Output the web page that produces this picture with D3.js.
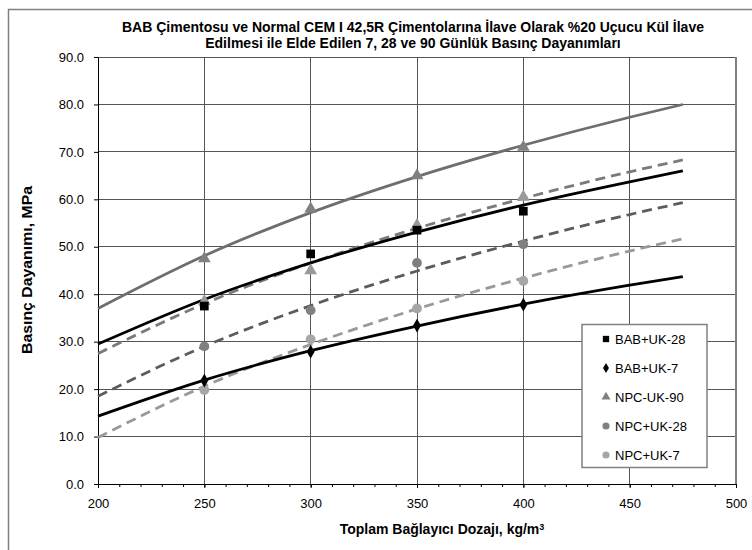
<!DOCTYPE html>
<html lang="tr">
    <head>
        <meta charset="utf-8">
        <title>Basınç Dayanımları</title>
        <script type="text/javascript" src="https://d3js.org/d3.v7.min.js"></script>
        <style>
            body { margin: 0; background: #fff; }
            text { font-family: "Liberation Sans", Arial, sans-serif; }
        </style>
    </head>
    <body>
        <script type="text/javascript">

        var w = 752;
        var h = 550;

        // dozaj values where the samples were measured
        var dozaj = [250, 300, 350, 400];
        var babUk28 = [37.5, 48.5, 53.5, 57.5];
        var babUk7 = [21.8, 27.9, 33.4, 37.8];
        var npcUk90 = [47.5, 58.0, 65.0, 71.0];
        var npcUk90b = [38.5, 45.0, 54.5, 60.5];
        var npcUk28 = [29.0, 36.6, 46.6, 50.5];
        var npcUk7 = [19.8, 30.5, 37.0, 42.8];

        // trend lines
        var trendX = [200, 250, 300, 350, 400, 450, 475];
        var npcUk90Trend = [37.0, 48.1, 57.2, 64.8, 71.4, 77.3, 80.0];
        var npcUk90bTrend = [27.5, 38.0, 46.6, 53.9, 60.2, 65.8, 68.3];
        var babUk28Trend = [29.5, 38.9, 46.6, 53.1, 58.8, 63.7, 66.0];
        var npcUk28Trend = [18.5, 29.0, 37.6, 44.9, 51.2, 56.8, 59.3];
        var npcUk7Trend = [9.8, 20.6, 29.4, 36.9, 43.4, 49.1, 51.7];
        var babUk7Trend = [14.3, 21.9, 28.1, 33.3, 37.9, 41.9, 43.7];

        var xTicks = [200, 250, 300, 350, 400, 450, 500];
        var yTicks = [0, 10, 20, 30, 40, 50, 60, 70, 80, 90];
        var legendNames = ["BAB+UK-28", "BAB+UK-7", "NPC-UK-90", "NPC+UK-28", "NPC+UK-7"];

        var svg = d3.select("body")
                    .append("svg")
                    .attr("width", w)
                    .attr("height", h);

        svg.append("rect")
            .attr("width", w).attr("height", h)
            .attr("fill", "#fff");

        // chart border (only top and left edges are in frame)
        svg.append("rect")
            .attr("x", 8.5).attr("y", 9.5)
            .attr("width", 800).attr("height", 600)
            .attr("fill", "none")
            .attr("stroke", "#808080")
            .attr("stroke-width", 1.5);

        var xScale = d3.scaleLinear().domain([200, 500]).range([98, 736]);
        var yScale = d3.scaleLinear().domain([0, 90]).range([484, 57]);

        // grid
        var grid = svg.append("g").attr("shape-rendering", "crispEdges");
        grid.selectAll(".hg")
            .data(yTicks.slice(1))
            .enter().append("line")
            .attr("x1", xScale(200)).attr("x2", xScale(500))
            .attr("y1", function(d) { return yScale(d); })
            .attr("y2", function(d) { return yScale(d); })
            .attr("stroke", "#555").attr("stroke-width", 1);
        grid.selectAll(".vg")
            .data(xTicks.slice(1))
            .enter().append("line")
            .attr("x1", function(d) { return xScale(d); })
            .attr("x2", function(d) { return xScale(d); })
            .attr("y1", yScale(0)).attr("y2", yScale(90))
            .attr("stroke", function(d) { return d == 500 ? "#808080" : "#555"; })
            .attr("stroke-width", function(d) { return d == 500 ? 2 : 1; });

        // axes
        svg.append("g")
            .attr("transform", "translate(0," + yScale(0) + ")")
            .call(d3.axisBottom(xScale).tickValues(xTicks).tickFormat(d3.format("d"))
                .tickSize(4).tickSizeOuter(0).tickPadding(11));
        svg.append("g")
            .attr("transform", "translate(0," + yScale(0) + ")")
            .call(d3.axisBottom(xScale).tickValues(d3.range(210, 500, 10)).tickFormat("")
                .tickSize(3).tickSizeOuter(0))
            .select(".domain").remove();
        svg.append("g")
            .attr("transform", "translate(" + xScale(200) + ",0)")
            .call(d3.axisLeft(yScale).tickValues(yTicks).tickFormat(d3.format(".1f"))
                .tickSize(4).tickSizeOuter(0).tickPadding(10));

        svg.selectAll(".tick text")
            .attr("font-size", 13)
            .attr("font-family", "Liberation Sans, Arial, sans-serif")
            .attr("fill", "#000");
        svg.selectAll(".domain, .tick line").attr("stroke", "#000");

        // trend lines
        var trendLine = d3.line()
            .x(function(d) { return xScale(d[0]); })
            .y(function(d) { return yScale(d[1]); })
            .curve(d3.curveMonotoneX);

        var trends = [
            { v: npcUk90Trend, color: "#6e6e6e", dash: null },
            { v: npcUk90bTrend, color: "#7a7a7a", dash: "10,6" },
            { v: npcUk28Trend, color: "#5c5c5c", dash: "10,6" },
            { v: npcUk7Trend, color: "#999999", dash: "10,6" },
            { v: babUk28Trend, color: "#000", dash: null },
            { v: babUk7Trend, color: "#000", dash: null }
        ];
        trends.forEach(function(t) {
            svg.append("path")
                .datum(d3.zip(trendX, t.v))
                .attr("d", trendLine)
                .attr("fill", "none")
                .attr("stroke", t.color)
                .attr("stroke-width", 2.8)
                .attr("stroke-dasharray", t.dash);
        });

        // markers
        var series = [
            { v: npcUk90, shape: d3.symbolTriangle, size: 70, color: "#808080" },
            { v: npcUk90b, shape: d3.symbolTriangle, size: 70, color: "#999999" },
            { v: npcUk28, shape: d3.symbolCircle, size: 75, color: "#808080" },
            { v: npcUk7, shape: d3.symbolCircle, size: 75, color: "#a6a6a6" },
            { v: babUk28, shape: d3.symbolSquare, size: 75, color: "#000" },
            { v: babUk7, shape: d3.symbolDiamond, size: 55, color: "#000" }
        ];
        series.forEach(function(s) {
            svg.selectAll(null)
                .data(d3.zip(dozaj, s.v))
                .enter().append("path")
                .attr("d", d3.symbol().type(s.shape).size(s.size))
                .attr("transform", function(d) {
                    return "translate(" + xScale(d[0]) + "," + yScale(d[1]) + ")";
                })
                .attr("fill", s.color);
        });

        // legend
        var legendMarks = [
            { shape: d3.symbolSquare, size: 40, color: "#000" },
            { shape: d3.symbolDiamond, size: 30, color: "#000" },
            { shape: d3.symbolTriangle, size: 35, color: "#808080" },
            { shape: d3.symbolCircle, size: 40, color: "#808080" },
            { shape: d3.symbolCircle, size: 40, color: "#a6a6a6" }
        ];
        var legend = svg.append("g");
        legend.append("rect")
            .attr("x", 582).attr("y", 324.5)
            .attr("width", 125).attr("height", 143)
            .attr("fill", "#fff")
            .attr("stroke", "#808080")
            .attr("stroke-width", 1.5);
        var items = legend.selectAll(".item")
            .data(legendNames)
            .enter().append("g")
            .attr("transform", function(d, i) { return "translate(606," + (339 + i * 29) + ")"; });
        items.append("path")
            .attr("d", function(d, i) { return d3.symbol().type(legendMarks[i].shape).size(legendMarks[i].size)(); })
            .attr("fill", function(d, i) { return legendMarks[i].color; });
        items.append("text")
            .attr("x", 9)
            .attr("dy", "0.35em")
            .attr("font-size", 13)
            .text(function(d) { return d; });

        // titles
        var title = svg.append("text")
            .attr("text-anchor", "middle")
            .attr("font-size", 14)
            .attr("font-weight", "bold");
        title.append("tspan").attr("x", 413).attr("y", 32)
            .text("BAB Çimentosu ve Normal CEM I 42,5R Çimentolarına İlave Olarak %20 Uçucu Kül İlave");
        title.append("tspan").attr("x", 413).attr("y", 48)
            .text("Edilmesi ile Elde Edilen 7, 28 ve 90 Günlük Basınç Dayanımları");

        svg.append("text")
            .attr("transform", "translate(32,270) rotate(-90)")
            .attr("text-anchor", "middle")
            .attr("font-size", 14)
            .attr("font-weight", "bold")
            .attr("textLength", 168)
            .attr("lengthAdjust", "spacingAndGlyphs")
            .text("Basınç Dayanımı, MPa");

        var xTitle = svg.append("text")
            .attr("x", 442).attr("y", 534)
            .attr("text-anchor", "middle")
            .attr("font-size", 14)
            .attr("font-weight", "bold")
            .text("Toplam Bağlayıcı Dozajı, kg/m");
        xTitle.append("tspan")
            .attr("font-size", 9)
            .attr("dy", "-0.5em")
            .text("3");

        </script>
    </body>
</html>
